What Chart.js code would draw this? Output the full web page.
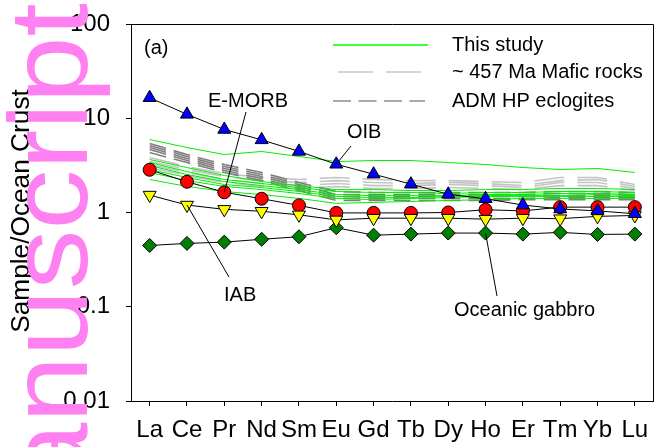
<!DOCTYPE html>
<html>
<head>
<meta charset="utf-8">
<script src="https://cdn.jsdelivr.net/npm/chart.js@4.4.1/dist/chart.umd.min.js"></script>
<style>
  html, body { margin: 0; padding: 0; background: #fff; }
</style>
</head>
<body>
<canvas id="ree-chart" width="662" height="447"></canvas>
<script>
// REE patterns normalised to ocean crust
const elements = ['La', 'Ce', 'Pr', 'Nd', 'Sm', 'Eu', 'Gd', 'Tb', 'Dy', 'Ho', 'Er', 'Tm', 'Yb', 'Lu'];
const yTicks = [0.01, 0.1, 1, 10, 100];

// reference compositions
const oib = [16.5, 11.0, 7.6, 5.9, 4.45, 3.25, 2.55, 2.0, 1.56, 1.40, 1.2, 1.09, 1.04, 0.97];
const eMorb = [2.84, 2.12, 1.64, 1.40, 1.19, 0.99, 0.99, 0.99, 1.0, 1.07, 1.04, 1.14, 1.14, 1.14];
const iab = [1.53, 1.2, 1.08, 1.03, 0.945, 0.835, 0.87, 0.87, 0.87, 0.85, 0.87, 0.86, 0.91, 0.93];
const gabbro = [0.447, 0.47, 0.485, 0.52, 0.553, 0.69, 0.575, 0.59, 0.605, 0.605, 0.59, 0.615, 0.585, 0.59];

// this study
const thisStudy = [
    [5.95, 4.89, 4.12, 4.44, 3.93, 3.47, 3.56, 3.56, 3.39, 3.23, 3.00, 2.86, 2.93, 2.66],
    [3.65, 3.00, 2.47, 2.13, 1.93, 1.75, 1.75, 1.71, 1.71, 1.75, 1.75, 1.80, 1.80, 1.75],
    [3.39, 2.72, 2.24, 2.03, 1.84, 1.67, 1.63, 1.63, 1.59, 1.63, 1.63, 1.67, 1.67, 1.63],
    [3.15, 2.53, 2.13, 1.93, 1.75, 1.55, 1.51, 1.51, 1.51, 1.55, 1.55, 1.59, 1.59, 1.55],
    [2.86, 2.35, 1.98, 1.84, 1.67, 1.48, 1.44, 1.44, 1.48, 1.51, 1.51, 1.51, 1.55, 1.51],
    [2.66, 2.18, 1.89, 1.75, 1.59, 1.41, 1.37, 1.41, 1.44, 1.48, 1.48, 1.48, 1.48, 1.48],
    [2.24, 1.89, 1.67, 1.55, 1.41, 1.25, 1.28, 1.31, 1.34, 1.37, 1.41, 1.41, 1.41, 1.41]
];

// ~457 Ma mafic rocks
const mafic457 = [
    [3.83, 3.07, 2.59, 2.35, 2.24, 2.35, 2.24, 2.18, 2.18, 2.13, 2.08, 2.35, 2.35, 1.98],
    [3.47, 2.86, 2.41, 2.18, 2.08, 2.18, 2.08, 2.03, 2.08, 2.03, 1.93, 2.18, 2.24, 1.89],
    [3.23, 2.66, 2.24, 2.03, 1.93, 2.03, 1.93, 1.93, 1.98, 1.93, 1.84, 2.08, 2.08, 1.80],
    [3.00, 2.47, 2.08, 1.89, 1.80, 1.89, 1.80, 1.80, 1.84, 1.80, 1.75, 1.93, 1.93, 1.71]
];

// ADM HP eclogites
const admEclogites = [
    [5.39, 4.12, 3.23, 2.66, 2.08, 1.67, 1.63, 1.63, 1.63, 1.63, 1.63, 1.67, 1.67, 1.63],
    [5.13, 3.93, 3.07, 2.53, 1.98, 1.55, 1.55, 1.55, 1.55, 1.55, 1.55, 1.59, 1.59, 1.55],
    [4.89, 3.74, 2.93, 2.41, 1.89, 1.48, 1.48, 1.48, 1.48, 1.48, 1.48, 1.51, 1.51, 1.48],
    [4.66, 3.56, 2.79, 2.29, 1.80, 1.41, 1.41, 1.41, 1.41, 1.41, 1.41, 1.44, 1.44, 1.44],
    [4.33, 3.39, 2.66, 2.18, 1.71, 1.34, 1.34, 1.34, 1.34, 1.34, 1.37, 1.37, 1.37, 1.37]
];

const FONT = 'Arial, "Liberation Sans", sans-serif';
const GREEN = '#00ee00';
const LIGHT_GRAY = '#c4c4c4';
const DARK_GRAY = '#7f7f7f';

Chart.defaults.font.family = FONT;
Chart.defaults.color = '#000';

function sampleLine(values, color, dash, width, order) {
    return {
        data: values, borderColor: color, borderWidth: width, borderDash: dash,
        pointRadius: 0, tension: 0, order: order
    };
}

function refLine(values, fill, style, radius, rotation, order) {
    return {
        data: values, borderColor: '#000', borderWidth: 1,
        pointStyle: style, pointRadius: radius, pointRotation: rotation,
        pointBackgroundColor: fill, pointBorderColor: '#000', pointBorderWidth: 1,
        tension: 0, order: order
    };
}

const datasets = [];
mafic457.forEach(v => datasets.push(sampleLine(v, LIGHT_GRAY, [30, 13], 1.6, 30)));
admEclogites.forEach(v => datasets.push(sampleLine(v, DARK_GRAY, [17, 8], 1.6, 25)));
thisStudy.forEach(v => datasets.push(sampleLine(v, GREEN, [], 1, 20)));
datasets.push(refLine(gabbro, '#008000', 'rectRot', 7, 0, 5));
datasets.push(refLine(eMorb, '#ff0000', 'circle', 6.5, 0, 4));
datasets.push(refLine(iab, '#ffff00', 'triangle', 7.5, 180, 3));
datasets.push(refLine(oib, '#0000ff', 'triangle', 7.5, 0, 2));

// labels + leader lines, legend, frame
const overlay = {
    id: 'overlay',
    afterDatasetsDraw(chart) {
        const { ctx, chartArea: a, scales: { x, y } } = chart;
        ctx.save();

        // top and right frame
        ctx.strokeStyle = '#000';
        ctx.lineWidth = 1;
        ctx.beginPath();
        ctx.moveTo(a.left, Math.round(a.top) + 0.5);
        ctx.lineTo(Math.round(a.right) - 0.5, Math.round(a.top) + 0.5);
        ctx.lineTo(Math.round(a.right) - 0.5, a.bottom);
        ctx.stroke();

        // leader lines to reference points
        const leader = (x0, y0, idx, arr) => {
            ctx.beginPath();
            ctx.moveTo(x0, y0);
            ctx.lineTo(x.getPixelForValue(idx), y.getPixelForValue(arr[idx]));
            ctx.stroke();
        };
        leader(246, 112, 2, eMorb);
        leader(351, 146, 5, oib);
        leader(229, 277, 1, iab);
        leader(497, 296, 9, gabbro);

        ctx.fillStyle = '#000';
        ctx.font = '20px ' + FONT;
        ctx.textBaseline = 'middle';
        ctx.textAlign = 'left';
        ctx.fillText('(a)', 144, 48);
        ctx.fillText('E-MORB', 208, 101);
        ctx.fillText('OIB', 347, 132);
        ctx.fillText('IAB', 224, 295);
        ctx.fillText('Oceanic gabbro', 454, 310);

        // legend
        const legendRow = (x0, x1, yy, color, dash, width, label) => {
            ctx.strokeStyle = color;
            ctx.lineWidth = width;
            ctx.setLineDash(dash);
            ctx.beginPath();
            ctx.moveTo(x0, yy);
            ctx.lineTo(x1, yy);
            ctx.stroke();
            ctx.setLineDash([]);
            ctx.fillText(label, 452, yy);
        };
        legendRow(333, 428, 45, '#00ff00', [], 1.6, 'This study');
        legendRow(338, 421, 72, '#c8c8c8', [35, 13], 1.6, '~ 457 Ma Mafic rocks');
        legendRow(333, 425, 101, '#555', [18, 7.5], 1.2, 'ADM HP eclogites');
        ctx.restore();
    },
    afterDraw(chart) {
        const { ctx } = chart;
        ctx.save();
        // y axis title
        ctx.translate(22, 211);
        ctx.rotate(-Math.PI / 2);
        ctx.scale(1.05, 1);
        ctx.fillStyle = '#000';
        ctx.font = '25px ' + FONT;
        ctx.textAlign = 'center';
        ctx.textBaseline = 'middle';
        ctx.fillText('Sample/Ocean Crust', 0, 0);
        ctx.restore();

        // watermark
        ctx.save();
        ctx.rotate(-Math.PI / 2);
        ctx.scale(1.07, 1);
        ctx.fillStyle = '#ff80f0';
        ctx.font = '112px ' + FONT;
        ctx.textAlign = 'right';
        ctx.textBaseline = 'alphabetic';
        ctx.fillText('Manuscript', -3, 87);
        ctx.restore();
    }
};

new Chart(document.getElementById('ree-chart'), {
    type: 'line',
    data: { labels: elements, datasets: datasets },
    options: {
        responsive: false,
        animation: false,
        devicePixelRatio: 1,
        layout: { padding: { top: 24, right: 2, left: 0, bottom: 0 } },
        plugins: { legend: { display: false }, tooltip: { enabled: false } },
        scales: {
            x: {
                offset: true,
                afterFit: s => { s.height = 46; s.paddingLeft = 0; s.paddingRight = 0; },
                grid: { drawOnChartArea: false, drawTicks: true, tickLength: 5, tickColor: '#000', offset: false },
                border: { color: '#000', width: 1 },
                ticks: { color: '#000', font: { size: 24 }, padding: 10, autoSkip: false, maxRotation: 0 }
            },
            y: {
                type: 'logarithmic',
                min: 0.01, max: 100,
                afterBuildTicks: s => { s.ticks = yTicks.map(v => ({ value: v })); },
                afterFit: s => { s.width = 131; s.paddingTop = 0; s.paddingBottom = 0; },
                grid: { drawOnChartArea: false, drawTicks: true, tickLength: 5, tickColor: '#000' },
                border: { color: '#000', width: 1 },
                ticks: { color: '#000', font: { size: 24 }, padding: 16, callback: v => String(v) }
            }
        }
    },
    plugins: [overlay]
});
</script>
</body>
</html>
